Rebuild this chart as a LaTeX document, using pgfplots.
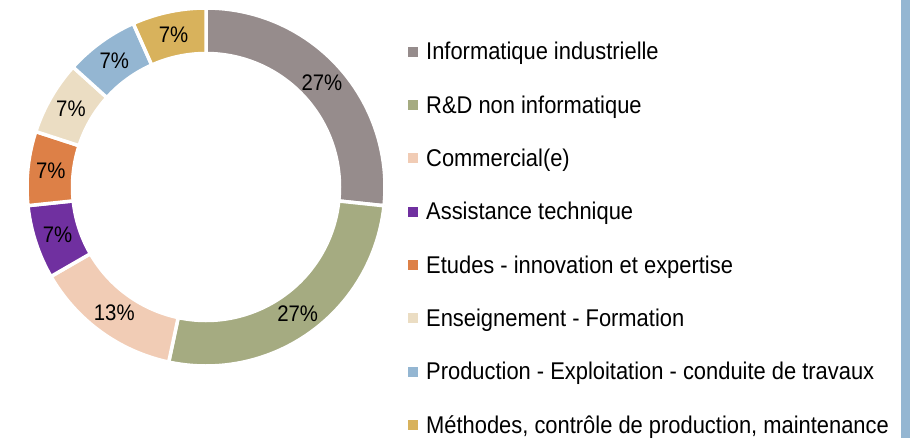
\documentclass[border=0pt]{standalone}
\usepackage{pgfplots}
\pgfplotsset{compat=1.18}
\usepackage{fontspec}
\setmainfont{Liberation Sans}[FakeStretch=0.905]
\definecolor{cInfo}{HTML}{968C8C}
\definecolor{cRD}{HTML}{A5AB81}
\definecolor{cCom}{HTML}{F1CCB5}
\definecolor{cAss}{HTML}{7030A0}
\definecolor{cEtu}{HTML}{DD8047}
\definecolor{cEns}{HTML}{EBDDC3}
\definecolor{cProd}{HTML}{94B6D2}
\definecolor{cMeth}{HTML}{D8B25C}
\newcommand\lblfont{\fontsize{22.5bp}{26bp}\selectfont}
\newcommand\legfont{\fontsize{24.2bp}{28bp}\selectfont}
\def\cum{0}
\newcount\rowc
\rowc=0
% #1 value (percent), #2 colour, #3 slice label, #4 legend text
\newcommand\slice[4]{%
  \pgfmathsetmacro\aA{90-3.6*\cum}%
  \pgfmathsetmacro\tmp{\cum+#1}%
  \xdef\cum{\tmp}%
  \pgfmathsetmacro\aB{90-3.6*\cum}%
  \pgfmathsetmacro\dA{\aB-\aA}%
  \pgfmathsetmacro\aM{(\aA+\aB)/2}%
  \pgfmathsetmacro\lx{206+156*cos(\aM)}%
  \pgfmathsetmacro\ly{187-156*sin(\aM)}%
  \pgfmathsetmacro\syA{46.7+53.3*\the\rowc}%
  \pgfmathsetmacro\syB{56.7+53.3*\the\rowc}%
  \pgfmathsetmacro\ty{60+53.3*\the\rowc}%
  \global\advance\rowc by 1
  \edef\doit{%
    \noexpand\addplot[fill=#2, draw=white, line width=3.5bp, line join=round,
      samples at={0,1,...,162}, variable=\noexpand\t]
    ({206+ifthenelse(\noexpand\t<80.5,179,ifthenelse(\noexpand\t<161.5,133.5,179))*cos(ifthenelse(\noexpand\t<80.5,(\aA)+(\dA)*\noexpand\t/80,ifthenelse(\noexpand\t<161.5,(\aB)-(\dA)*(\noexpand\t-81)/80,\aA)))},
     {187-ifthenelse(\noexpand\t<80.5,179,ifthenelse(\noexpand\t<161.5,133.5,179))*sin(ifthenelse(\noexpand\t<80.5,(\aA)+(\dA)*\noexpand\t/80,ifthenelse(\noexpand\t<161.5,(\aB)-(\dA)*(\noexpand\t-81)/80,\aA)))});
    \noexpand\node[font=\noexpand\lblfont, inner sep=0pt, anchor=center, text=black] at (axis cs:\lx,\ly) {\unexpanded{#3}};
    \noexpand\fill[#2] (axis cs:408,\syA) rectangle (axis cs:418,\syB);
    \noexpand\node[font=\noexpand\legfont, inner sep=0pt, anchor=base west, text=black] at (axis cs:426,\ty) {\unexpanded{#4}};
  }%
  \doit
}
\begin{document}
\begin{tikzpicture}
\begin{axis}[
  scale only axis, width=910bp, height=438bp,
  xmin=0, xmax=910, ymin=0, ymax=438, y dir=reverse,
  hide axis, clip=false]
\path (axis cs:0,0) rectangle (axis cs:910,438);
\slice{26.67}{cInfo}{27\%}{Informatique industrielle}
\slice{26.67}{cRD}{27\%}{R\&D non informatique}
\slice{13.33}{cCom}{13\%}{Commercial(e)}
\slice{6.67}{cAss}{7\%}{Assistance technique}
\slice{6.67}{cEtu}{7\%}{Etudes - innovation et expertise}
\slice{6.67}{cEns}{7\%}{Enseignement - Formation}
\slice{6.66}{cProd}{7\%}{Production - Exploitation - conduite de travaux}
\slice{6.66}{cMeth}{7\%}{Méthodes, contrôle de production, maintenance}
\fill[cProd] (axis cs:901,0) rectangle (axis cs:910,438);
\end{axis}
\end{tikzpicture}
\end{document}
